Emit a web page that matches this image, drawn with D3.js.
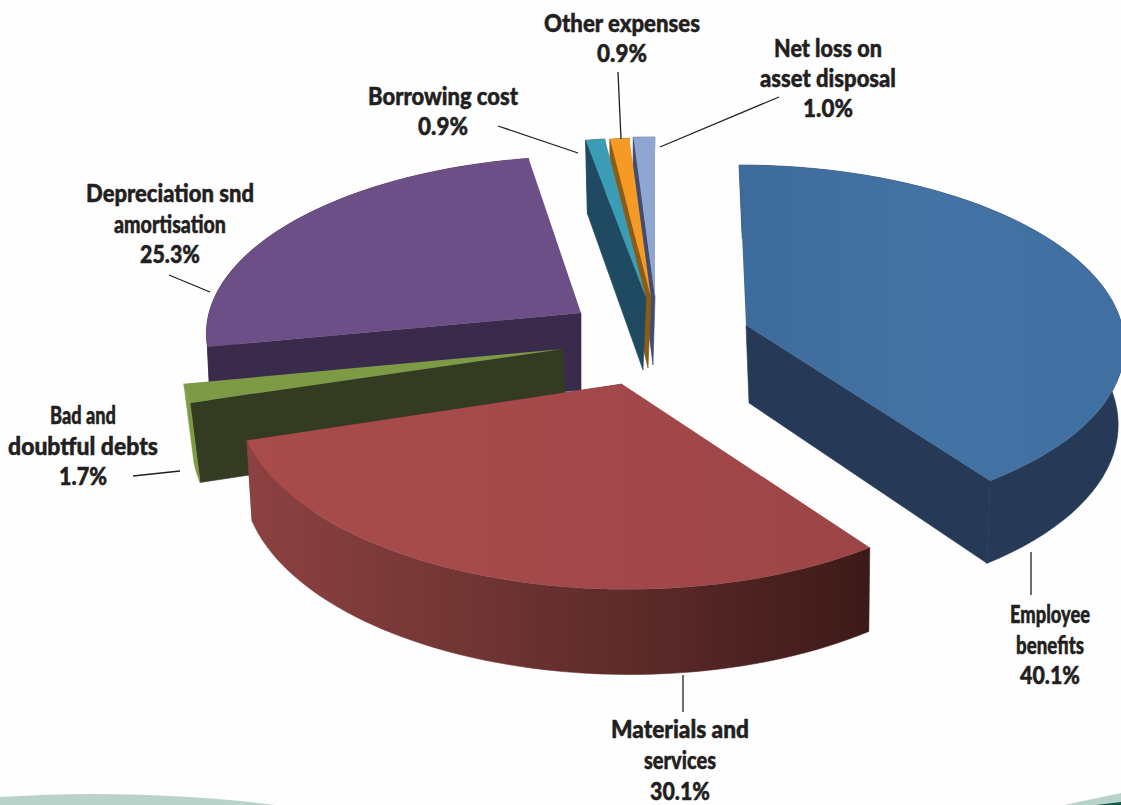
<!DOCTYPE html>
<html>
<head>
<meta charset="utf-8">
<style>
  html, body { margin: 0; padding: 0; background: #fefefe; }
  svg { display: block; }
  .lbl { font-family: Lato, "Open Sans", sans-serif; font-weight: 900; font-size: 25px; fill: #231f20; stroke: #231f20; stroke-width: 0.5px; text-anchor: middle; }
</style>
<script src="https://cdnjs.cloudflare.com/ajax/libs/d3/7.8.5/d3.min.js"></script>
</head>
<body>
<svg id="chart" width="1121" height="805"></svg>
<script>
// Expense categories, clockwise from twelve o'clock
const categories = ["Employee benefits", "Materials and services", "Bad and doubtful debts",
  "Depreciation snd amortisation", "Borrowing cost", "Other expenses", "Net loss on asset disposal"];
const shares = [40.1, 30.1, 1.7, 25.3, 0.9, 0.9, 1.0];

const topColours  = ["#41709f", "#a3484a", "#7d9a45", "#6d4f87", "#3b9db5", "#f49a25", "#8fa6d0"];
const wallColours = ["#263a58", "#6d3332", "#333b22", "#3a2a4b", "#1f4a62", "#8a5c16", "#414c70"];

// How each wedge is pulled out of the pie and how its base sits under its top face
const explode = [
  { ox: 746, oy: 325, rx: 376, ry: 1.00, skew: 7, bx: 3, by: 78, sx: 0.025, sy: 0.03 },
  { ox: 622, oy: 384, rx: 383, ry: 1.05, skew: 6, bx: 1.5, by: 79, sx: 0.01, sy: 0.03 },
  { ox: 563, oy: 349, rx: 379, ry: 1.00, skew: 0, bx: 3, by: 78, sx: 0.019, sy: 0.03 },
  { ox: 581, oy: 313, rx: 372, ry: 0.98, skew: -7, bx: 0, by: 77, sx: 0.01, sy: 0.03 },
  { ox: 646, oy: 298, rx: 379, ry: 1.00, skew: 0, bx: -3, by: 72, sx: 0.08, sy: -0.01 },
  { ox: 651, oy: 298, rx: 379, ry: 1.00, skew: 0, bx: -3, by: 70, sx: 0.08, sy: -0.01 },
  { ox: 655, oy: 297, rx: 379, ry: 1.00, skew: 0, bx: -2, by: 68, sx: 0.08, sy: -0.01 }
];
// Painter's order: far wedges first, the big front wedges last
const paintOrder = [6, 5, 4, 3, 2, 1, 0];

const labelLines = [
  ["Employee", "benefits", "40.1%"],
  ["Materials and", "services", "30.1%"],
  ["Bad and", "doubtful debts", "1.7%"],
  ["Depreciation snd", "amortisation", "25.3%"],
  ["Borrowing cost", "0.9%"],
  ["Other expenses", "0.9%"],
  ["Net loss on", "asset disposal", "1.0%"]
];
const labelAnchors = [[1050, 623], [680, 738], [83, 424], [170, 202], [443, 105], [622, 32], [828, 57]];
const labelGaps = [30.5, 31, 30.5, 30.5, 30, 30, 30];
const labelWidths = [[80, 68, 60], [138, 72, 60], [66, 150, 48], [168, 112, 60], [150, 50], [156, 50], [108, 136, 50]];
const leaders = [
  [[1031, 552], [1031, 595]], [[683, 675], [683, 712]], [[133, 476], [180, 471]],
  [[169, 275], [210, 292]], [[498, 126], [578, 153]], [[618, 72], [621, 139]], [[779, 97], [660, 147]]
];

const svg = d3.select("#chart");
const defs = svg.append("defs");

// Mild perspective: the near side of the pie is larger than the far side
const PERSPECTIVE = 0.1, DEPTH_SCALE = 176;
function onTop(a, e) {
  const u = Math.sin(a), v = -Math.cos(a), den = 1 - PERSPECTIVE * v;
  return [e.ox + e.skew * v + e.rx * u / den, e.oy + e.ry * DEPTH_SCALE * v / den];
}
function onBase(a, e) {
  const [x, y] = onTop(a, e);
  return [x + e.bx - e.sx * (x - e.ox), y + e.by + e.sy * (y - e.oy)];
}
const arcSamples = (a0, a1) => d3.range(0, 61).map(i => a0 + (a1 - a0) * i / 60);
const closed = d3.line().curve(d3.curveLinearClosed);

const wedges = d3.pie().sort(null).value(d => d)(shares);

function wallGradient(id, stops, x0, x1) {
  const g = defs.append("linearGradient").attr("id", id)
    .attr("gradientUnits", "userSpaceOnUse")
    .attr("x1", x0).attr("x2", x1).attr("y1", 0).attr("y2", 0);
  stops.forEach(([o, c]) => g.append("stop").attr("offset", o).attr("stop-color", c));
  return `url(#${id})`;
}
const materialsRim = wallGradient("materials-rim",
  [[0, "#8d4141"], [0.3, "#753736"], [0.6, "#5e2c2a"], [1, "#3d1a19"]], 250, 868);
const materialsTop = wallGradient("materials-top",
  [[0, "#a84b4a"], [0.6, "#a3484a"], [1, "#9d4546"]], 250, 868);
const benefitsTop = wallGradient("benefits-top",
  [[0, "#3d6b9c"], [0.5, "#4372a4"], [1, "#4070a2"]], 740, 1120);

paintOrder.forEach(i => {
  const w = wedges[i], e = explode[i];
  const g = svg.append("g").attr("class", "wedge").attr("data-name", categories[i]);
  const rim = arcSamples(w.startAngle, w.endAngle);
  const wall = i === 1 ? materialsRim : wallColours[i];
  const apexTop = [e.ox, e.oy];
  const apexBase = [e.ox + e.bx, e.oy + e.by];

  // The radial wall facing the viewer: the leading edge on the left half, the trailing edge on the right
  const radialAngle = w.startAngle > Math.PI ? w.startAngle : w.endAngle;
  const drawRadial = () => g.append("path")
    .attr("d", closed([onTop(radialAngle, e), apexTop, apexBase, onBase(radialAngle, e)]))
    .attr("fill", wallColours[i]).attr("stroke", wallColours[i]).attr("stroke-width", 0.6);

  // Outer curved wall
  const outer = rim.map(a => onTop(a, e)).concat(rim.slice().reverse().map(a => onBase(a, e)));
  const outerFill = i === 2 ? topColours[2] : wall;
  const drawOuter = () => g.append("path").attr("d", closed(outer))
    .attr("fill", outerFill).attr("stroke", outerFill).attr("stroke-width", 0.6);

  // A wedge wholly on the right shows its radial wall in front of the rim; elsewhere the rim is in front
  if (w.endAngle > Math.PI) { drawRadial(); drawOuter(); } else { drawOuter(); drawRadial(); }

  // Top face
  const face = [apexTop].concat(rim.map(a => onTop(a, e)));
  g.append("path").attr("d", closed(face))
    .attr("fill", i === 1 ? materialsTop : i === 0 ? benefitsTop : topColours[i]);
});

// Leader lines
svg.append("g").selectAll("path").data(leaders).join("path")
  .attr("d", d => d3.line()(d))
  .attr("fill", "none").attr("stroke", "#231f20").attr("stroke-width", 1.3);

// Labels: each line is measured, then condensed horizontally to its set width
labelLines.forEach((lines, i) => {
  const [x, y] = labelAnchors[i];
  const t = svg.append("g").attr("class", "label");
  lines.forEach((s, k) => {
    const text = t.append("text").attr("class", "lbl").text(s);
    const squeeze = labelWidths[i][k] / text.node().getComputedTextLength();
    text.attr("transform", `translate(${x},${y + k * labelGaps[i]}) scale(${squeeze},1)`);
  });
});

// Page furniture along the bottom edge
const band = d3.line().curve(d3.curveMonotoneX);
svg.append("path").attr("fill", "#b9d3cb")
  .attr("d", band([[0, 797], [40, 795], [95, 794], [170, 796], [230, 800], [275, 805]]) + "L0,805Z");
svg.append("path").attr("fill", "#b9d3cb")
  .attr("d", closed([[1064, 805], [1121, 793], [1121, 805]]));
svg.append("path").attr("fill", "#0d5a4a")
  .attr("d", closed([[1096, 805], [1121, 802], [1121, 805]]));
</script>
</body>
</html>
